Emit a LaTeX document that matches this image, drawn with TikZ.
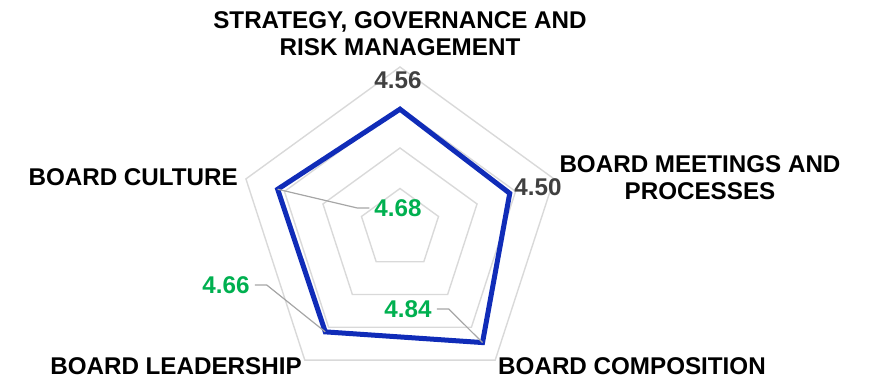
\documentclass[tikz,border=0pt]{standalone}
\usepackage{fontspec}
\setmainfont{Liberation Sans}
\usetikzlibrary{calc}
\definecolor{gridgray}{RGB}{217,217,217}
\definecolor{leadgray}{RGB}{166,166,166}
\definecolor{valgray}{RGB}{64,64,64}
\definecolor{scoreblue}{RGB}{16,44,184}
\definecolor{scoregreen}{RGB}{0,176,80}
\tikzset{
	axislabel/.style={font=\fontsize{24.2}{27}\selectfont\bfseries, align=center, inner sep=0pt},
	darkval/.style={font=\fontsize{24.2}{27}\selectfont\bfseries, text=valgray, inner sep=4pt},
	greenval/.style={font=\fontsize{24.2}{27}\selectfont\bfseries, text=scoregreen, inner sep=5pt},
	leader/.style={leadgray, line width=1.2pt}
}
\begin{document}
\begin{tikzpicture}[x=1pt,y=1pt]
				\useasboundingbox (0,0) rectangle (871,379);
				\coordinate (c) at (400,150);
				%
				\foreach \r in {40.5,81,121.5,162}
				\draw[gridgray, line width=1.4pt] ($(c)+(90:\r)$) -- ($(c)+(18:\r)$) -- ($(c)+(-54:\r)$) -- ($(c)+(-126:\r)$) -- ($(c)+(162:\r)$) -- cycle;
				%
				\coordinate (p0) at ($(c)+(90:{(4.56-2.93)*73.5})$);
				\coordinate (p1) at ($(c)+(18:{(4.50-2.93)*73.5})$);
				\coordinate (p2) at ($(c)+(-54:{(4.84-2.93)*73.5})$);
				\coordinate (p3) at ($(c)+(-126:{(4.66-2.93)*73.5})$);
				\coordinate (p4) at ($(c)+(162:{(4.68-2.93)*73.5})$);
				%
				\draw[scoreblue, line width=5pt] (p0) -- (p1) -- (p2) -- (p3) -- (p4) -- cycle;
				%
				\node[axislabel] (l0) at (400,345.5) {STRATEGY, GOVERNANCE AND\\RISK MANAGEMENT};
				\node[axislabel] (l1) at (700,201.5) {BOARD MEETINGS AND\\PROCESSES};
				\node[axislabel] (l2) at (632,13) {BOARD COMPOSITION};
				\node[axislabel] (l3) at (176,13) {BOARD LEADERSHIP};
				\node[axislabel, anchor=east] (l4) at (238,202) {BOARD CULTURE};
				%
				\node[darkval] (v0) at (398,299) {4.56};
				\node[darkval] (v1) at (538,192) {4.50};
				\node[greenval] (v2) at (408,70) {4.84};
				\node[greenval] (v3) at (226,94) {4.66};
				\node[greenval] (v4) at (398,171) {4.68};
				%
				\draw[leader] (v2.east) -- ++(12,0) -- (p2);
				\draw[leader] (v3.east) -- ++(12,0) -- (p3);
				\draw[leader] (v4.west) -- ++(-12,0) -- (p4);
			\end{tikzpicture}
\end{document}
